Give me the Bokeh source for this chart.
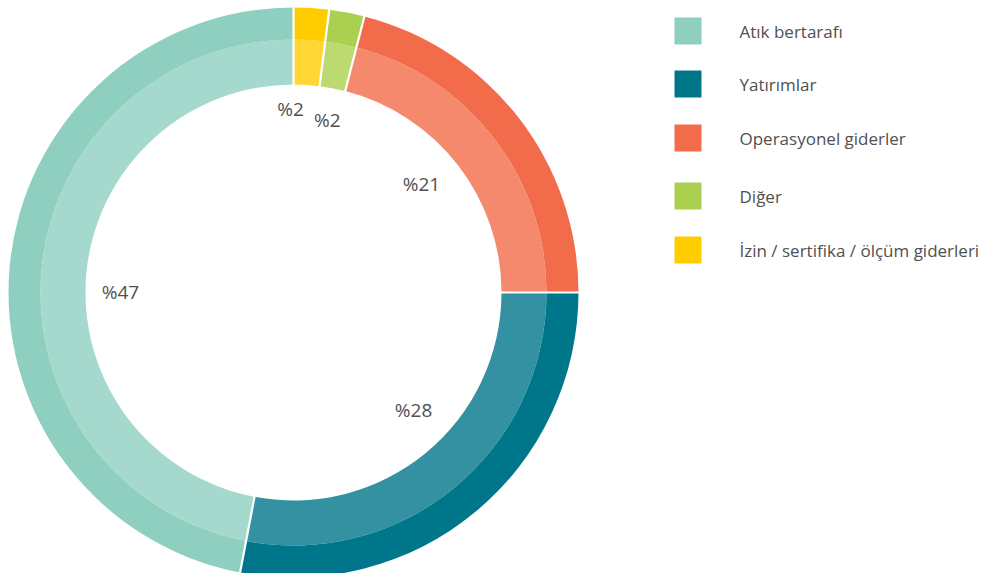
import math
from bokeh.plotting import figure
from bokeh.models import Range1d, ColumnDataSource
from bokeh.core.properties import value
from bokeh.embed import file_html
from bokeh.resources import INLINE

# Data (clockwise from 12 o'clock)
categories = ["İzin / sertifika / ölçüm giderleri", "Diğer", "Operasyonel giderler", "Yatırımlar", "Atık bertarafı"]
shares = [2, 2, 21, 28, 47]
colors = ["#ffcc00", "#abcf4f", "#f26b4a", "#00768b", "#8ecfc0"]
labels = ["%2", "%2", "%21", "%28", "%47"]

legend_order = ["Atık bertarafı", "Yatırımlar", "Operasyonel giderler", "Diğer", "İzin / sertifika / ölçüm giderleri"]

W, H = 988, 573
p = figure(width=W, height=H, output_backend="svg", toolbar_location=None,
           x_range=Range1d(0, W), y_range=Range1d(0, H), min_border=0)
p.axis.visible = False
p.grid.visible = False
p.outline_line_color = None
p.background_fill_color = "white"

cx, cy = 293, H - 292
r_out, r_mid, r_in = 285, 253, 208

total = sum(shares)
starts, ends, mids = [], [], []
acc = 0.0
for s in shares:
    t1 = acc / total * 360.0
    acc += s
    t2 = acc / total * 360.0
    # clockwise-from-top -> bokeh anticlockwise-from-x
    starts.append(math.radians(90 - t2))
    ends.append(math.radians(90 - t1))
    mids.append((t1 + t2) / 2)

src = ColumnDataSource(dict(start=starts, end=ends, color=colors))
p.annular_wedge(x=cx, y=cy, inner_radius=r_mid, outer_radius=r_out, start_angle="start", end_angle="end",
                fill_color="color", line_color=None, source=src)
p.annular_wedge(x=cx, y=cy, inner_radius=r_in, outer_radius=r_mid, start_angle="start", end_angle="end",
                fill_color="color", fill_alpha=0.8, line_color=None, source=src)

# white separators
bx0, by0, bx1, by1 = [], [], [], []
for a in ends:
    bx0.append(cx + (r_in - 2) * math.cos(a)); by0.append(cy + (r_in - 2) * math.sin(a))
    bx1.append(cx + (r_out + 2) * math.cos(a)); by1.append(cy + (r_out + 2) * math.sin(a))
p.segment(x0=bx0, y0=by0, x1=bx1, y1=by1, line_color="white", line_width=2.2)

# percentage labels inside the hole
lab_r = [184, 176, 168, 168, 173]
lab_adj = [-4.5, 0.3, -2.6, -6.0, -5.1]
lx, ly = [], []
for m, r, d in zip(mids, lab_r, lab_adj):
    a = math.radians(90 - (m + d))
    lx.append(cx + r * math.cos(a)); ly.append(cy + r * math.sin(a))
p.text(x=lx, y=ly, text=labels, text_align="center", text_baseline="middle",
       text_font=value("Open Sans"), text_font_size="19px", text_color="#505050")

# legend
leg_colors = [colors[categories.index(c)] for c in legend_order]
leg_y = [H - 30.5, H - 83.5, H - 137.5, H - 195.5, H - 249.5]
p.rect(x=[687.5] * 5, y=leg_y, width=27, height=27, fill_color=leg_colors, line_color=None)
p.text(x=[739] * 5, y=leg_y, text=legend_order, text_align="left", text_baseline="middle",
       text_font=value("Open Sans"), text_font_size="17px", text_color="#505050")

open("out.html", "w").write(file_html(p, INLINE))
